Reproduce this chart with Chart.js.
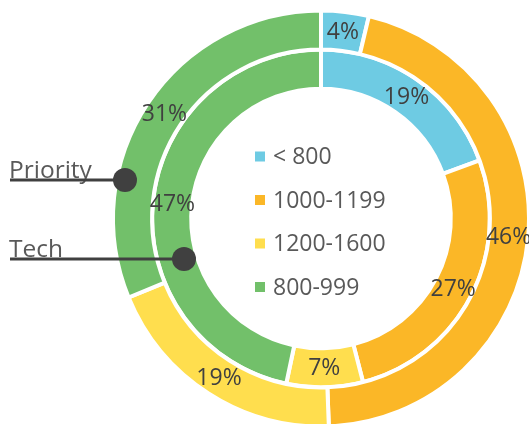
<!DOCTYPE html>
<html>
<head>
<meta charset="utf-8">
<script src="https://cdn.jsdelivr.net/npm/chart.js@4"></script>
<style>
  html, body { margin: 0; padding: 0; background: #fff; }
  #donut { display: block; }
</style>
</head>
<body>
<canvas id="donut" width="529" height="424"></canvas>
<script>
var labels = ["< 800", "1000-1199", "1200-1600", "800-999"];
// shares (printed labels are these, rounded)
var priority = [3.7, 45.7, 19.4, 31.2];
var tech = [19.4, 26.6, 7.3, 46.7];
var seriesNames = ["Priority", "Tech"];
var colors = ["#6ecbe3", "#fbb727", "#ffde4e", "#72c06a"];

var FONT = '"Open Sans", "Noto Sans", sans-serif';

// percent labels, center legend and the two leader lines
var extras = {
    id: 'extras',
    afterDraw: function (chart) {
        var ctx = chart.ctx;
        ctx.save();

        // percentages on each arc
        ctx.font = '23px ' + FONT;
        ctx.fillStyle = '#404040';
        ctx.textAlign = 'center';
        ctx.textBaseline = 'middle';
        chart.data.datasets.forEach(function (ds, i) {
            var meta = chart.getDatasetMeta(i);
            var total = ds.data.reduce(function (a, b) { return a + b; }, 0);
            meta.data.forEach(function (arc, j) {
                var p = arc.tooltipPosition();
                ctx.fillText(Math.round(ds.data[j] / total * 100) + '%', p.x, p.y + 1);
            });
        });

        // legend in the hole
        var arc0 = chart.getDatasetMeta(0).data[0];
        var cx = arc0.x, cy = arc0.y;
        ctx.textAlign = 'left';
        labels.forEach(function (lab, j) {
            var y = cy - 62 + j * 43.5;
            ctx.fillStyle = colors[j];
            ctx.fillRect(cx - 66, y - 5, 10, 10);
            ctx.fillStyle = '#595959';
            ctx.fillText(lab, cx - 48, y + 1);
        });

        // series callouts
        var callouts = [
            { name: seriesNames[0], y: 180, x: 125 },
            { name: seriesNames[1], y: 259, x: 184 }
        ];
        ctx.font = '24.5px ' + FONT;
        ctx.textBaseline = 'alphabetic';
        callouts.forEach(function (c) {
            ctx.fillStyle = '#595959';
            ctx.fillText(c.name, 9, c.y - 2);
            ctx.strokeStyle = '#404040';
            ctx.lineWidth = 3;
            ctx.beginPath();
            ctx.moveTo(10, c.y);
            ctx.lineTo(c.x, c.y);
            ctx.stroke();
            ctx.fillStyle = '#404040';
            ctx.beginPath();
            ctx.arc(c.x, c.y, 12, 0, Math.PI * 2);
            ctx.fill();
        });

        ctx.restore();
    }
};

var donut = document.getElementById("donut").getContext('2d');
var myChart = new Chart(donut, {
    type: 'doughnut',
    data: {
        labels: labels,
        datasets: [
            {
                label: seriesNames[0],
                data: priority,
                backgroundColor: colors,
                borderColor: '#ffffff',
                borderWidth: 4
            },
            {
                label: seriesNames[1],
                data: tech,
                backgroundColor: colors,
                borderColor: '#ffffff',
                borderWidth: 4
            }
        ]
    },
    options: {
        responsive: false,
        animation: false,
        radius: 208,
        cutout: 127,
        layout: { padding: { left: 113, top: 13, right: 0, bottom: 0 } },
        plugins: {
            legend: { display: false },
            tooltip: { enabled: false }
        }
    },
    plugins: [extras]
});
</script>
</body>
</html>
